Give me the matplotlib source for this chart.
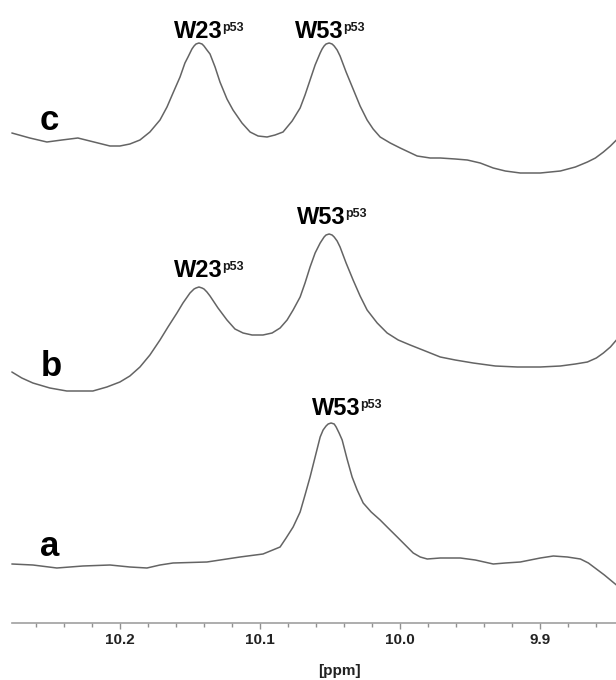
import matplotlib
matplotlib.use("Agg")
import matplotlib.pyplot as plt
from matplotlib.ticker import MultipleLocator

plt.rcParams["font.family"] = ["Liberation Sans", "DejaVu Sans"]

# Spectra: chemical shift (ppm) and relative intensity (a.u.)
ppm_c = [10.2771, 10.2643, 10.2521, 10.2414, 10.2300, 10.2214, 10.2071, 10.2000,
         10.1929, 10.1857, 10.1786, 10.1714, 10.1664, 10.1621, 10.1571, 10.1536,
         10.1514, 10.1500, 10.1486, 10.1471, 10.1457, 10.1436, 10.1414, 10.1400,
         10.1379, 10.1357, 10.1321, 10.1286, 10.1236, 10.1193, 10.1129, 10.1071,
         10.1014, 10.0950, 10.0893, 10.0836, 10.0771, 10.0714, 10.0679, 10.0643,
         10.0607, 10.0571, 10.0557, 10.0543, 10.0529, 10.0507, 10.0486, 10.0471,
         10.0450, 10.0429, 10.0386, 10.0336, 10.0286, 10.0236, 10.0193, 10.0143,
         10.0071, 10.0000, 9.9879, 9.9786, 9.9714, 9.9607, 9.9521, 9.9429,
         9.9336, 9.9250, 9.9143, 9.9000, 9.8857, 9.8750, 9.8664, 9.8607,
         9.8550, 9.8500, 9.8457]
int_c = [40, 35, 31, 33, 35, 32, 27, 27,
         29, 33, 41, 53, 66, 80, 96, 110,
         116, 120, 124, 127, 129, 130, 129, 127,
         123, 119, 106, 91, 74, 63, 50, 41,
         37, 36, 38, 41, 52, 65, 78, 93,
         108, 120, 124, 127, 129, 130, 129, 127,
         123, 117, 101, 84, 67, 53, 44, 36,
         30, 25, 17, 15, 15, 14, 13, 10,
         5, 2, 0, 0, 2, 6, 11, 15,
         21, 27, 33]

ppm_b = [10.2771, 10.2700, 10.2621, 10.2500, 10.2379, 10.2286, 10.2193, 10.2093,
         10.2000, 10.1929, 10.1857, 10.1786, 10.1714, 10.1657, 10.1593, 10.1550,
         10.1500, 10.1471, 10.1457, 10.1436, 10.1414, 10.1400, 10.1379, 10.1357,
         10.1300, 10.1236, 10.1179, 10.1121, 10.1057, 10.0979, 10.0914, 10.0857,
         10.0807, 10.0764, 10.0714, 10.0679, 10.0643, 10.0607, 10.0571, 10.0557,
         10.0543, 10.0529, 10.0507, 10.0486, 10.0471, 10.0450, 10.0429, 10.0386,
         10.0336, 10.0286, 10.0236, 10.0164, 10.0093, 10.0014, 9.9929, 9.9821,
         9.9714, 9.9607, 9.9479, 9.9321, 9.9164, 9.9000, 9.8857, 9.8750,
         9.8664, 9.8600, 9.8550, 9.8500, 9.8457]
int_b = [19, 13, 8, 3, 0, 0, 0, 4,
         9, 15, 24, 36, 51, 64, 78, 88,
         98, 102, 103, 104, 103, 102, 99, 95,
         83, 71, 62, 58, 56, 56, 58, 63,
         71, 81, 94, 108, 124, 138, 148, 151,
         154, 156, 157, 156, 154, 150, 144, 128,
         111, 95, 81, 68, 58, 51, 46, 40,
         34, 31, 28, 25, 24, 24, 25, 27,
         29, 33, 38, 44, 51]

ppm_a = [10.2771, 10.2621, 10.2450, 10.2264, 10.2071, 10.1929, 10.1807, 10.1714,
         10.1621, 10.1379, 10.1143, 10.0979, 10.0857, 10.0814, 10.0764, 10.0714,
         10.0679, 10.0643, 10.0607, 10.0571, 10.0550, 10.0529, 10.0514, 10.0493,
         10.0471, 10.0457, 10.0436, 10.0414, 10.0379, 10.0343, 10.0307, 10.0264,
         10.0207, 10.0143, 10.0086, 10.0021, 9.9964, 9.9907, 9.9857, 9.9807,
         9.9714, 9.9571, 9.9464, 9.9336, 9.9250, 9.9143, 9.9000, 9.8907,
         9.8807, 9.8714, 9.8657, 9.8600, 9.8543, 9.8457]
int_a = [21, 20, 17, 19, 20, 18, 17, 20,
         22, 23, 28, 31, 38, 47, 58, 73,
         90, 108, 128, 148, 155, 159, 161, 162,
         161, 158, 152, 145, 126, 108, 95, 82,
         73, 65, 57, 48, 40, 32, 28, 26,
         27, 27, 25, 21, 22, 23, 27, 29,
         28, 26, 22, 16, 10, 0]

trace_names = ["a", "b", "c"]

fig = plt.figure(figsize=(6.16, 6.8), dpi=100)
ax = fig.add_axes([12 / 616, 57 / 680, 604 / 616, 623 / 680])

line_col = "#646464"
offsets = {"a": 38, "b": 232, "c": 450}
spectra = {"a": (ppm_a, int_a), "b": (ppm_b, int_b), "c": (ppm_c, int_c)}
for name in trace_names:
    p, y = spectra[name]
    ax.plot(p, [v + offsets[name] for v in y], color=line_col, lw=1.1,
            solid_joinstyle="round", solid_capstyle="round", clip_on=False)

# trace letters
letter_pos = {"a": (10.2571, 67), "b": (10.2564, 247), "c": (10.2571, 493)}
for name in trace_names:
    ax.text(*letter_pos[name], name, fontsize=25, fontweight="bold",
            ha="left", va="baseline")

# peak labels: (name, ppm where name ends, baseline y)
peak_labels = [("W23", 10.1268, 585), ("W53", 10.0404, 585),
               ("W23", 10.1268, 346), ("W53", 10.0389, 399),
               ("W53", 10.0282, 208)]
for txt, xp, yb in peak_labels:
    ax.text(xp, yb, txt, fontsize=17, fontweight="bold", ha="right", va="baseline")
    ax.text(xp + 0.0002, yb + 7, "p53", fontsize=9, fontweight="bold",
            ha="left", va="baseline", color="#1a1a1a")

ax.set_xlim(10.277, 9.846)
ax.set_ylim(0, 623)
ax.xaxis.set_major_locator(MultipleLocator(0.1))
ax.xaxis.set_minor_locator(MultipleLocator(0.02))
ax.xaxis.set_major_formatter(lambda v, pos: f"{v:.1f}")
ax.tick_params(axis="x", which="both", direction="out", colors="#909090",
               labelcolor="#222222", length=3, width=1.0, pad=3)
ax.tick_params(axis="x", which="major", length=4)
for lab in ax.get_xticklabels():
    lab.set_fontsize(11)
    lab.set_fontweight("bold")
ax.set_yticks([])
for side in ["left", "top", "right"]:
    ax.spines[side].set_visible(False)
ax.spines["bottom"].set_color("#a0a0a0")
ax.spines["bottom"].set_linewidth(1.2)
ax.patch.set_visible(False)

fig.text(339 / 616, 1 - 671 / 680, "[ppm]", fontsize=11, fontweight="bold",
         ha="center", va="center", color="#222222")

fig.savefig("out.png", dpi=100)
